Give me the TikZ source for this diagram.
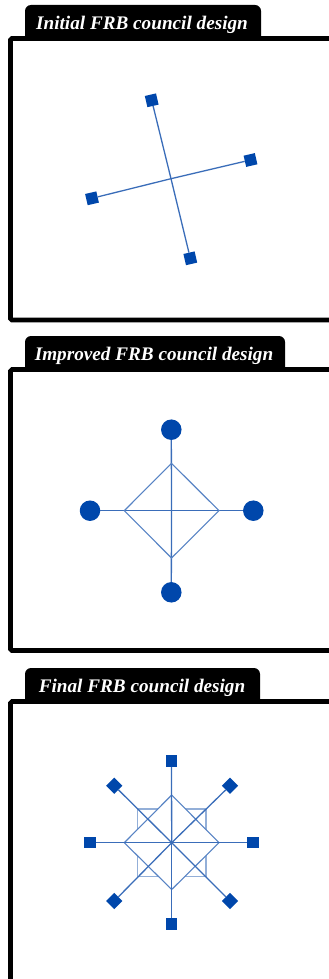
\documentclass[tikz,border=0pt]{standalone}
\usepackage{fontspec}
\setmainfont{Liberation Serif}
\definecolor{nodeblue}{HTML}{0047AB}
\definecolor{lineblue}{HTML}{3A6DB9}
\tikzset{
	frameline/.style={line width=4.6pt, rounded corners=1.5pt},
	tabtext/.style={text=white, anchor=base, inner sep=0pt, font=\fontsize{19.2}{22}\selectfont\bfseries\itshape},
	squarenode/.style={fill=nodeblue, minimum size=11.5pt, inner sep=0pt},
	roundnode/.style={circle, fill=nodeblue, minimum size=20.5pt, inner sep=0pt},
	link/.style={lineblue, line width=1.3pt},
	thinlink/.style={lineblue!85, line width=1.1pt},
	palelink/.style={lineblue!55, line width=1.3pt}
}
\begin{document}
\begin{tikzpicture}[x=1pt, y=-1pt]
	\useasboundingbox (0,0) rectangle (329,979);
	\clip (0,0) rectangle (329,979);
	% panel frames and title tabs
	\foreach \ytop/\ybot in {38.5/320,369.5/650.5,701.5/1000}
	{
		\draw[frameline] (340,\ytop) -- (10.5,\ytop) -- (10.5,\ybot) -- (340,\ybot);
	}
	\fill[rounded corners=6pt] (25,37) -- (25,5) -- (261,5) -- (261,37);
	\fill[rounded corners=6pt] (25,368) -- (25,336) -- (285,336) -- (285,368);
	\fill[rounded corners=6pt] (25,700) -- (25,668) -- (260,668) -- (260,700);
	\node[tabtext] (title1) at (142,29.3) {Initial FRB council design};
	\node[tabtext] (title2) at (154,360.7) {Improved FRB council design};
	\node[tabtext] (title3) at (142,692) {Final FRB council design};

	% initial design
	\coordinate (a0) at (171,178.7);
	\node[squarenode, rotate=13] (a1) at (151.7,100.3) {};
	\node[squarenode, rotate=13] (a2) at (250.5,160) {};
	\node[squarenode, rotate=13] (a3) at (190.3,258.3) {};
	\node[squarenode, rotate=13] (a4) at (92,198.3) {};
	\foreach \x in {a1,a2,a3,a4}
	{
		\draw[link] (\x) -- (a0);
	}

	% improved design
	\coordinate (b0) at (171.5,510.7);
	\coordinate (bn) at (171.5,463.3); \coordinate (be) at (219,510.7);
	\coordinate (bs) at (171.5,558); \coordinate (bw) at (124.3,510.7);
	\node[roundnode] (b1) at (171.3,429.7) {};
	\node[roundnode] (b2) at (253.3,510.7) {};
	\node[roundnode] (b3) at (171.3,592.3) {};
	\node[roundnode] (b4) at (90,510.7) {};
	\foreach \x in {b1,b2,b3,b4}
	{
		\draw[link] (\x) -- (b0);
	}
	\draw[thinlink] (bn) -- (be) -- (bs) -- (bw) -- cycle;

	% final design
	\coordinate (c0) at (171.7,842.7);
	\coordinate (cn) at (171.7,795); \coordinate (ce) at (219,842.7);
	\coordinate (cs) at (171.7,889.5); \coordinate (cw) at (124.3,842.7);
	\coordinate (p1) at (137.7,809); \coordinate (p2) at (206,809);
	\coordinate (p3) at (206,876.3); \coordinate (p4) at (137.7,876.3);
	\draw[palelink] (p1) -- (p2) -- (p3) -- (p4) -- cycle;
	\draw[thinlink, fill=white] (cn) -- (ce) -- (cs) -- (cw) -- cycle;
	\node[squarenode] (c1) at (171.5,761) {};
	\node[squarenode, rotate=45] (c2) at (230,785.7) {};
	\node[squarenode] (c3) at (253,842.7) {};
	\node[squarenode, rotate=45] (c4) at (230,901) {};
	\node[squarenode] (c5) at (171.7,924) {};
	\node[squarenode, rotate=45] (c6) at (114.3,901) {};
	\node[squarenode] (c7) at (90,842.7) {};
	\node[squarenode, rotate=45] (c8) at (114.3,785.7) {};
	\foreach \x in {c1,c2,c3,c4,c5,c6,c7,c8}
	{
		\draw[link] (\x) -- (c0);
	}
\end{tikzpicture}
\end{document}
